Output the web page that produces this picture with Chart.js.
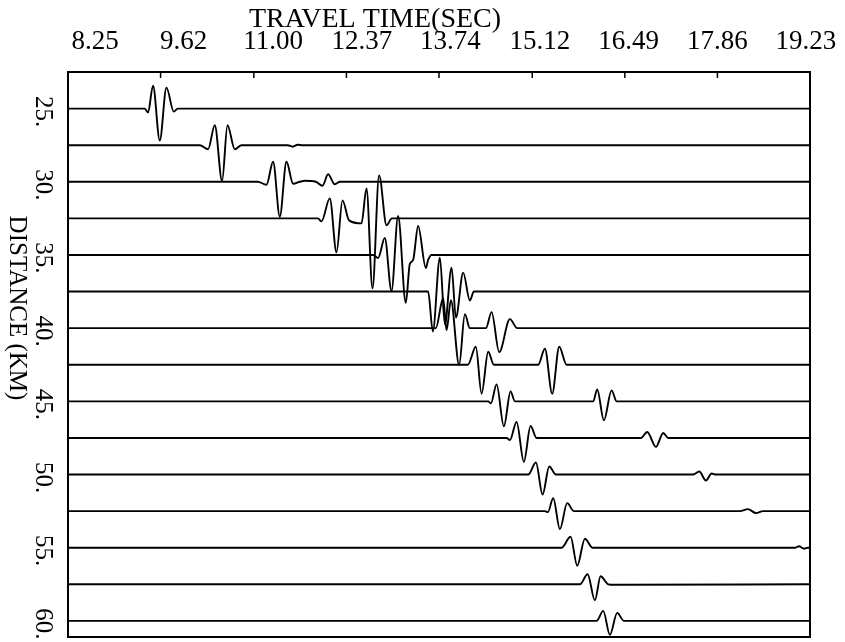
<!DOCTYPE html>
<html>
<head>
<meta charset="utf-8">
<script src="https://cdn.jsdelivr.net/npm/chart.js@4"></script>
<style>
  html, body { margin: 0; padding: 0; background: #fff; }
  #c { display: block; }
</style>
</head>
<body>
<canvas id="c" width="845" height="642"></canvas>
<script>
// ---- axis data ----
const timeTicks = [8.25, 9.62, 11.00, 12.37, 13.74, 15.12, 16.49, 17.86, 19.23];
const timeTickLabels = ['8.25', '9.62', '11.00', '12.37', '13.74', '15.12', '16.49', '17.86', '19.23'];
const distanceTicks = [25, 30, 35, 40, 45, 50, 55, 60];
const distanceTickLabels = ['25.', '30.', '35.', '40.', '45.', '50.', '55.', '60.'];
const traceDistances = [25, 27.5, 30, 32.5, 35, 37.5, 40, 42.5, 45, 47.5, 50, 52.5, 55, 57.5, 60];
const xTitle = 'TRAVEL TIME(SEC)';
const yTitle = 'DISTANCE (KM)';

// ---- trace samples (time in s, amplitude in trace units, positive = up) ----
const t25  = [9.385, 9.434, 9.508, 9.608, 9.707, 9.815, 9.874];
const a25  = [0, -4, 23, -32, 21, -3, 0];
const t275 = [10.200, 10.323, 10.422, 10.530, 10.610, 10.718, 10.817, 11.502, 11.576, 11.650, 11.724];
const a275 = [0, -4, 20, -36, 20, -4, 0, 0, -1.5, 0.5, 0];
const t30  = [11.058, 11.187, 11.285, 11.384, 11.483, 11.581, 11.680, 11.754, 11.917, 12.016, 12.099, 12.198, 12.272];
const a30  = [0, -3, 20, -35, 20, -2, 0, 1, 0, -4, 7.5, -2.5, 0];
const t325 = [11.947, 12.001, 12.124, 12.223, 12.312, 12.410, 12.593, 12.667, 12.756, 12.854, 12.964, 13.042];
const a325 = [0, -3, 20, -34, 18, -2, -5, 30, -70, 43, -7, 0];
const t35  = [12.715, 12.765, 12.839, 12.938, 13.037, 13.135, 13.249, 13.308, 13.357, 13.431, 13.545, 13.579, 13.630];
const a35  = [0, 0, -3, 17, -36, 39, -48, -9, -5, 29, -13, -5, 0];
const t375 = [13.531, 13.579, 13.649, 13.753, 13.827, 13.926, 13.990, 14.098, 14.197, 14.256];
const a375 = [0, 0, -40, 34, -33, 24, -26, 19, -9, 0];
const t40  = [13.693, 13.801, 13.852, 13.916, 14.038, 14.123, 14.197, 14.434, 14.518, 14.631, 14.789, 14.897];
const a40  = [0, 30, -2, 28, -37, 14, 0, 0, 16, -24, 9, 0];
const t425 = [14.167, 14.285, 14.370, 14.468, 14.552, 15.208, 15.307, 15.415, 15.519, 15.628];
const a425 = [0, 18, -29, 13, 0, 0, 16, -29, 18, 0];
const t45  = [14.468, 14.508, 14.592, 14.700, 14.799, 14.863, 16.022, 16.081, 16.180, 16.294, 16.368];
const a45  = [0, -2, 17, -25, 10, 0, 0, 12, -19, 11, 0];
const t475 = [14.740, 14.789, 14.888, 14.996, 15.095, 15.184, 16.728, 16.821, 16.950, 17.058, 17.132];
const a475 = [0, -2, 16, -24, 12, 0, 0, 6, -9, 5, 0];
const t50  = [15.060, 15.174, 15.273, 15.371, 15.470, 17.502, 17.591, 17.690, 17.775, 17.838];
const a50  = [0, 12, -20, 8, 0, 0, 3, -6, 1, 0];
const t525 = [15.307, 15.351, 15.430, 15.529, 15.637, 15.736, 18.194, 18.312, 18.431, 18.534];
const a525 = [0, -1, 13, -18, 8, 0, 0, 2, -2, 0];
const t55  = [15.554, 15.687, 15.785, 15.899, 16.013, 19.008, 19.067, 19.141, 19.200];
const a55  = [0, 11, -18, 9, 0, 0, 1.5, -1, 0];
const t575 = [15.825, 15.939, 16.047, 16.131, 16.244, 16.343];
const a575 = [0, 10, -16, 8, 0, -0.5];
const t60  = [16.072, 16.170, 16.269, 16.377, 16.477];
const a60  = [0, 10, -14, 8, 0];

const traceTimes = [t25, t275, t30, t325, t35, t375, t40, t425, t45, t475, t50, t525, t55, t575, t60];
const traceAmps  = [a25, a275, a30, a325, a35, a375, a40, a425, a45, a475, a50, a525, a55, a575, a60];

// amplitude unit -> km on the distance axis
const gain = 1 / 14.65;
const tMin = timeTicks[0], tMax = timeTicks[timeTicks.length - 1];
// the printed time labels sit on a slightly wider span than the tick marks
const labelSpanMin = 7.833, labelSpanMax = 19.292;

const datasets = traceDistances.map((d, i) => {
  const pts = [{ x: tMin, y: d }];
  traceTimes[i].forEach((t, j) => pts.push({ x: t, y: d - traceAmps[i][j] * gain }));
  pts.push({ x: tMax, y: d });
  return {
    data: pts,
    xAxisID: 'x',
    yAxisID: 'y',
    borderColor: '#000',
    borderWidth: 1.9,
    pointRadius: 0,
    fill: false,
    cubicInterpolationMode: 'monotone'
  };
});

const SERIF = '"Liberation Serif", "DejaVu Serif", serif';

const decor = {
  id: 'decor',
  afterDraw(chart) {
    const { ctx, chartArea: a, scales } = chart;
    const xs = scales.x, ys = scales.y;
    ctx.save();
    ctx.strokeStyle = '#000';
    ctx.lineWidth = 2;
    ctx.strokeRect(a.left, a.top, a.right - a.left, a.bottom - a.top);
    // inward tick marks on the top border
    ctx.lineWidth = 1.5;
    timeTicks.slice(1, -1).forEach(v => {
      const px = xs.getPixelForValue(v);
      ctx.beginPath();
      ctx.moveTo(px, a.top);
      ctx.lineTo(px, a.top + 6);
      ctx.stroke();
    });
    ctx.fillStyle = '#000';
    // distance labels, rotated clockwise
    ctx.font = '25px ' + SERIF;
    ctx.textAlign = 'center';
    ctx.textBaseline = 'alphabetic';
    distanceTicks.forEach((v, i) => {
      const py = ys.getPixelForValue(v) + 3;
      ctx.save();
      ctx.translate(36, py);
      ctx.rotate(Math.PI / 2);
      ctx.fillText(distanceTickLabels[i], 0, 0);
      ctx.restore();
    });
    // distance title
    ctx.save();
    ctx.translate(10, 308);
    ctx.rotate(Math.PI / 2);
    ctx.font = '25px ' + SERIF;
    ctx.fillText(yTitle, 0, 0);
    ctx.restore();
    // time title
    ctx.font = '28px ' + SERIF;
    ctx.textAlign = 'center';
    ctx.fillText(xTitle, 375, 27);
    ctx.restore();
  }
};

new Chart(document.getElementById('c'), {
  type: 'line',
  data: { datasets },
  options: {
    responsive: false,
    animation: false,
    devicePixelRatio: 1,
    layout: { padding: { left: 68, right: 35, top: 0, bottom: 5 } },
    plugins: { legend: { display: false }, tooltip: { enabled: false }, title: { display: false } },
    elements: { point: { radius: 0 } },
    scales: {
      x: {
        type: 'linear',
        position: 'top',
        min: tMin,
        max: tMax,
        display: false
      },
      xLabels: {
        type: 'linear',
        position: 'top',
        min: labelSpanMin,
        max: labelSpanMax,
        afterBuildTicks: s => { s.ticks = timeTicks.map(v => ({ value: v })); },
        afterFit: s => { s.height = 72; s.paddingLeft = 0; s.paddingRight = 0; },
        ticks: {
          callback: (v, i) => timeTickLabels[i],
          font: { family: SERIF, size: 27 },
          color: '#000',
          padding: 14,
          maxRotation: 0,
          autoSkip: false
        },
        grid: { display: false, drawTicks: false },
        border: { display: false }
      },
      y: {
        type: 'linear',
        reverse: true,
        min: 22.5,
        max: 61.1,
        display: false
      }
    }
  },
  plugins: [decor]
});
</script>
</body>
</html>
